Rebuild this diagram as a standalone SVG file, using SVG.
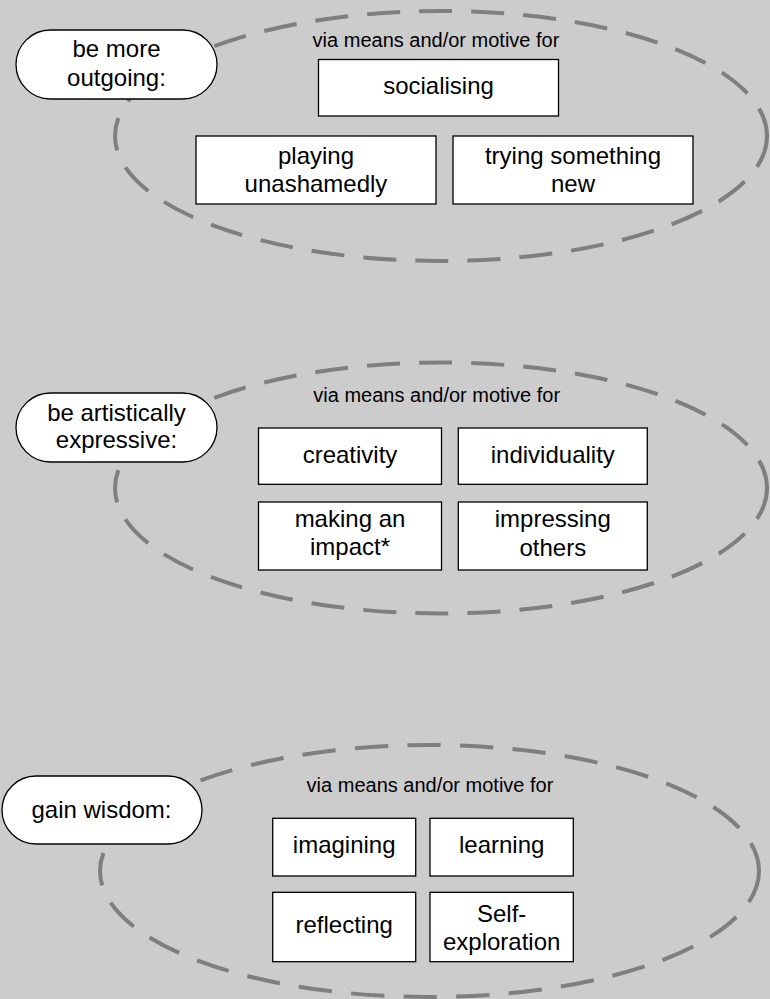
<svg xmlns="http://www.w3.org/2000/svg" width="770" height="999" viewBox="0 0 770 999">
  <style>
    .frame { fill: none; stroke: #7f7f7f; stroke-width: 4; stroke-dasharray: 33 19.1; }
    .pill, .box { fill: #ffffff; stroke: #000000; stroke-width: 1.3; }
    text { font-family: "Liberation Sans", Arial, sans-serif; fill: #000000; text-anchor: middle; }
    .lbl { font-size: 24px; }
    .via { font-size: 20px; }
  </style>
  <rect width="770" height="999" fill="#cccccc"/>

  <!-- dashed frames grouping each goal with its means -->
  <g id="frames">
    <ellipse class="frame" cx="441" cy="136" rx="326" ry="125" pathLength="1488"/>
    <ellipse class="frame" cx="441" cy="488" rx="326" ry="125.5" pathLength="1488"/>
    <ellipse class="frame" cx="429.5" cy="871" rx="329.5" ry="126" pathLength="1488"/>
  </g>

  <!-- goal 1 -->
  <g id="goal-outgoing">
    <rect class="pill" x="16" y="30" width="201" height="69" rx="34.5"/>
    <text class="lbl" x="116.5" y="57.3">be more</text>
    <text class="lbl" x="116.5" y="86">outgoing:</text>
  </g>
  <text class="via" x="436" y="47.3">via means and/or motive for</text>
  <g id="socialising">
    <rect class="box" x="318.5" y="59.5" width="240" height="56.5"/>
    <text class="lbl" x="438.5" y="94">socialising</text>
  </g>
  <g id="playing">
    <rect class="box" x="196" y="136" width="240" height="68"/>
    <text class="lbl" x="316" y="164">playing</text>
    <text class="lbl" x="316" y="191.5">unashamedly</text>
  </g>
  <g id="trying-new">
    <rect class="box" x="453" y="136" width="240" height="68"/>
    <text class="lbl" x="573" y="163.5">trying something</text>
    <text class="lbl" x="573" y="191.5">new</text>
  </g>

  <!-- goal 2 -->
  <g id="goal-artistic">
    <rect class="pill" x="16" y="393" width="201" height="69" rx="34.5"/>
    <text class="lbl" x="116.5" y="420.7">be artistically</text>
    <text class="lbl" x="116.5" y="447.5">expressive:</text>
  </g>
  <text class="via" x="436.7" y="401.7">via means and/or motive for</text>
  <g id="creativity">
    <rect class="box" x="258.5" y="428" width="183" height="56.3"/>
    <text class="lbl" x="350" y="462.7">creativity</text>
  </g>
  <g id="individuality">
    <rect class="box" x="458.3" y="428" width="189" height="56.3"/>
    <text class="lbl" x="552.8" y="462.7">individuality</text>
  </g>
  <g id="making-impact">
    <rect class="box" x="258.5" y="502" width="183" height="68"/>
    <text class="lbl" x="350" y="526.7">making an</text>
    <text class="lbl" x="350" y="555.3">impact*</text>
  </g>
  <g id="impressing">
    <rect class="box" x="458.3" y="502" width="189" height="68"/>
    <text class="lbl" x="552.8" y="527">impressing</text>
    <text class="lbl" x="552.8" y="555.5">others</text>
  </g>

  <!-- goal 3 -->
  <g id="goal-wisdom">
    <rect class="pill" x="2" y="776" width="200" height="68" rx="34"/>
    <text class="lbl" x="101.5" y="817.5">gain wisdom:</text>
  </g>
  <text class="via" x="430" y="791.7">via means and/or motive for</text>
  <g id="imagining">
    <rect class="box" x="272.7" y="818.3" width="143" height="57.7"/>
    <text class="lbl" x="344.2" y="853.3">imagining</text>
  </g>
  <g id="learning">
    <rect class="box" x="430" y="818.3" width="143.3" height="57.7"/>
    <text class="lbl" x="501.7" y="853.3">learning</text>
  </g>
  <g id="reflecting">
    <rect class="box" x="272.7" y="892.3" width="143" height="69.4"/>
    <text class="lbl" x="344.2" y="933.3">reflecting</text>
  </g>
  <g id="self-exploration">
    <rect class="box" x="430" y="892.3" width="143.3" height="69.4"/>
    <text class="lbl" x="501.7" y="921.5">Self-</text>
    <text class="lbl" x="501.7" y="950.3">exploration</text>
  </g>
</svg>
